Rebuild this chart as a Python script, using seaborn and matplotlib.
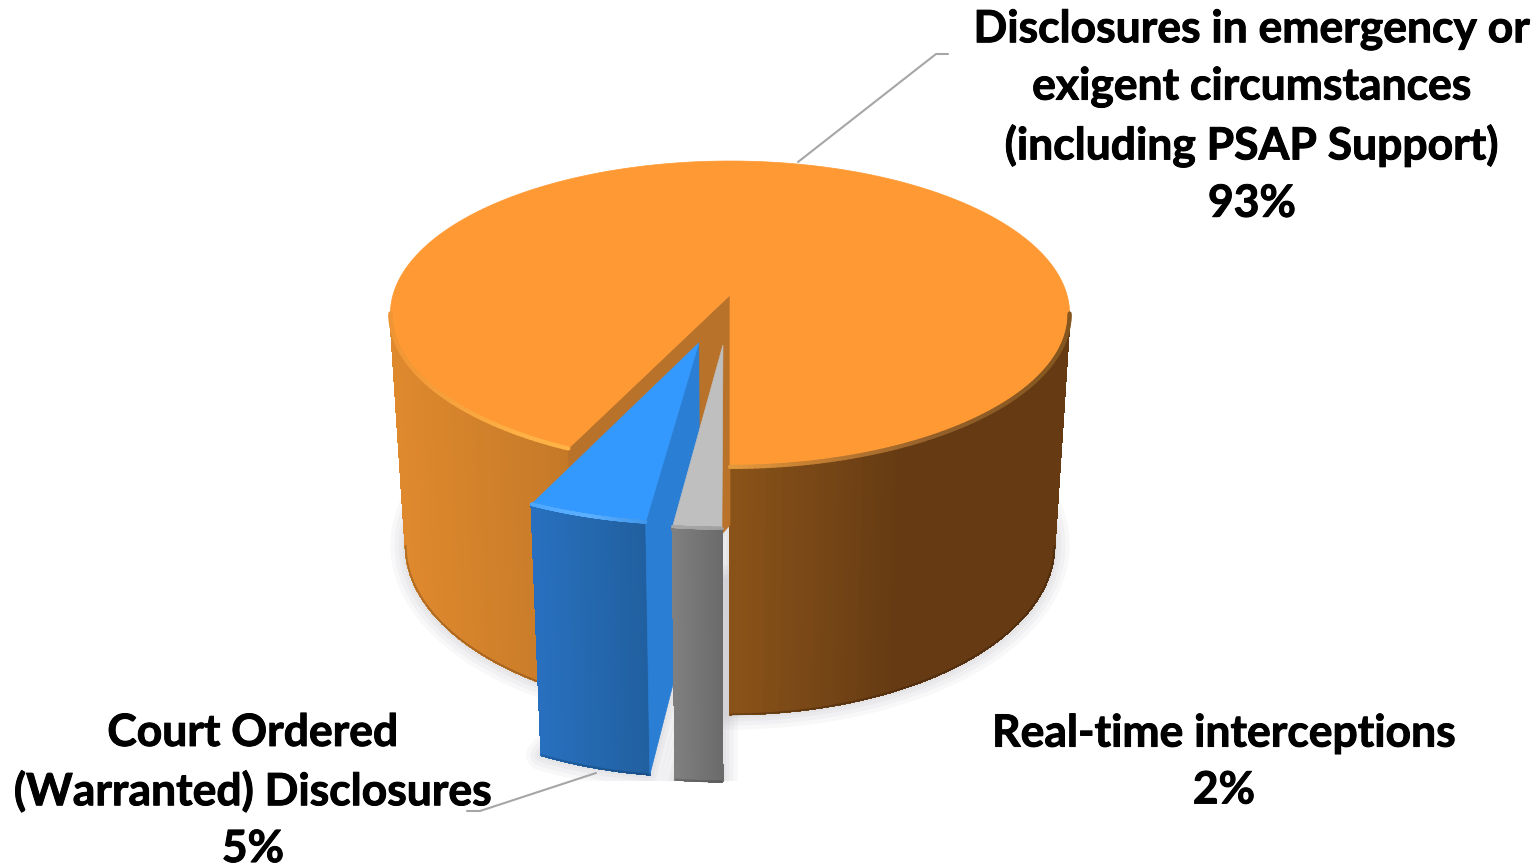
import matplotlib
matplotlib.use("Agg")
import matplotlib.pyplot as plt
import matplotlib.patheffects as pe
from matplotlib.collections import LineCollection, PolyCollection
from matplotlib.patches import Polygon, Rectangle
import numpy as np
import seaborn as sns

# Dados
categorias = ["Disclosures in emergency or\nexigent circumstances\n(including PSAP Support)",
              "Court Ordered\n(Warranted) Disclosures",
              "Real-time interceptions"]
valores = [93, 5, 2]
explode = [0, 0.32, 0.32]
raio = [1, 0.97, 0.98]

cores_topo = ["#FF9933", "#3399FF", "#BFBFBF"]
cores_corte = ["#B9722A", "#2A7FD4", "#A0A0A0"]
cores_lado = [["#DF892E", "#C67A28", "#8A5319", "#663B13", "#663B13"],
              ["#2870BF", "#2468AE", "#215F9F"],
              ["#7F7F7F", "#6A6A6A"]]

# Geometria da pizza em pixels: raio, altura da elipse e perspectiva
CX = 730
TOPO = {"y": 295, "r": 337, "b": 150.6, "p": 0.124}
BASE = {"y": 525, "r": 322, "b": 166.6, "p": 0.12}

sns.set_theme(style="white")
plt.rcParams["font.family"] = ["Lato", "DejaVu Sans"]

fig = plt.figure(figsize=(15.38, 8.67), dpi=100)
ax = fig.add_axes([0, 0, 1, 1])
ax.set_xlim(0, 1538)
ax.set_ylim(867, 0)
ax.axis("off")


def projeta(u, v, nivel):
    s = 1 / (1 - nivel["p"] * v)
    return np.column_stack([CX + nivel["r"] * u * s, nivel["y"] + nivel["b"] * v * s])


def centro(t0, t1, exp):
    meio = np.radians((t0 + t1) / 2)
    return -exp * np.sin(meio), exp * np.cos(meio)


def arco(t0, t1, exp, r, nivel, n=400):
    t = np.radians(np.linspace(t0, t1, n))
    cu, cv = centro(t0, t1, exp)
    return projeta(cu - r * np.sin(t), cv + r * np.cos(t), nivel)


def vertice(t0, t1, exp, nivel):
    cu, cv = centro(t0, t1, exp)
    return projeta(np.array([cu]), np.array([cv]), nivel)


def rampa(cores, x, xmin, xmax):
    pal = sns.blend_palette(cores, n_colors=256)
    i = np.clip((x - xmin) / (xmax - xmin) * 255, 0, 255).astype(int)
    return [pal[k] for k in i]


# Ângulos: horário a partir de 6 horas, a primeira fatia termina em 360
limites = 360 - np.cumsum([0] + valores) * 3.6
fatias = [(limites[i + 1], limites[i], explode[i], raio[i]) for i in range(len(valores))]

# Sombra difusa
recorte = Rectangle((0, 0), 1538, 781, transform=ax.transData)
for t0, t1, exp, r in fatias:
    pts = np.vstack([vertice(t0, t1, exp, BASE), arco(t0, t1, exp, r, BASE)])
    for lw in (22, 16, 10, 5):
        sombra = Polygon(pts, closed=True, facecolor="none", edgecolor=(0.25, 0.25, 0.35, 0.035),
                         linewidth=lw, joinstyle="round", zorder=1)
        ax.add_patch(sombra)
        sombra.set_clip_path(recorte)


def desenha_fatia(i, zorder):
    t0, t1, exp, r = fatias[i]
    topo = arco(t0, t1, exp, r, TOPO)
    base = arco(t0, t1, exp, r, BASE)
    vis = np.cos(np.radians(np.linspace(t0, t1, 400))) > 0.12

    # Parede externa em tiras
    quads, xs, segs = [], [], []
    for k in range(399):
        if vis[k] and vis[k + 1]:
            quads.append([topo[k], topo[k + 1], base[k + 1], base[k]])
            segs.append([base[k], base[k + 1]])
            xs.append(topo[k, 0])
    xs = np.array(xs)
    xmin, xmax = (391, 1070) if i == 0 else (xs.min(), xs.max())
    cores = rampa(cores_lado[i], xs, xmin, xmax)
    ax.add_collection(PolyCollection(quads, facecolors=cores, edgecolors=cores, linewidths=1,
                                     antialiaseds=False, zorder=zorder))

    # Linha da base, um pouco mais escura que a parede
    escuras = [tuple(np.array(c) * 0.78) for c in cores]
    ax.add_collection(LineCollection(segs, colors=escuras, linewidths=1.3, zorder=zorder))

    # Face do corte
    vt, vb = vertice(t0, t1, exp, TOPO), vertice(t0, t1, exp, BASE)
    if i < 2:
        ax.add_patch(Polygon(np.vstack([vt, topo[0], base[0], vb]), facecolor=cores_corte[i],
                             edgecolor=cores_corte[i], linewidth=0.5, zorder=zorder + 0.1))

    # Face superior
    ax.add_patch(Polygon(np.vstack([vt, topo]), facecolor=cores_topo[i], edgecolor=cores_topo[i],
                         linewidth=0.5, zorder=zorder + 0.2))
    return topo, vis


def desenha_borda(topo, vis, cores, xmin, xmax, zorder, lw=3):
    segs, xs = [], []
    for k in range(len(topo) - 1):
        if vis[k] and vis[k + 1]:
            segs.append([topo[k], topo[k + 1]])
            xs.append(topo[k, 0])
    ax.add_collection(LineCollection(segs, colors=rampa(cores, np.array(xs), xmin, xmax), linewidths=lw,
                                     capstyle="round", zorder=zorder))


topo, vis = desenha_fatia(0, 2)
desenha_borda(topo, vis, ["#F09535", "#FFB347", "#FFB347", "#C98233", "#94602A", "#85561F"], 391, 1070, 2.5)
topo, vis = desenha_fatia(1, 3)
desenha_borda(topo, vis, ["#4DA8FF", "#5DB0FF", "#3F96EA"], topo[:, 0].min(), topo[:, 0].max(), 3.5, lw=2.5)
topo, vis = desenha_fatia(2, 4)
desenha_borda(topo, vis, ["#A8A8A8", "#A0A0A0"], topo[:, 0].min(), topo[:, 0].max(), 4.5, lw=2)

# Rótulos
fs = 32
for nome, val, xt, yt in zip(categorias, valores, [1252, 253, 1224], [116.5, 791, 762]):
    ax.text(xt, yt, f"{nome}\n{val}%", ha="center", va="center", fontsize=fs, fontweight="bold",
            color="black", linespacing=1.51, zorder=6,
            path_effects=[pe.withStroke(linewidth=0.7, foreground="black")])

# Linhas de chamada
ax.plot([798, 936, 948], [162, 54, 54], color="#A6A6A6", linewidth=1.5, zorder=5)
ax.plot([596, 480, 467], [773, 811, 811], color="#A6A6A6", linewidth=1.5, zorder=5)

fig.savefig("out.png", dpi=100)
